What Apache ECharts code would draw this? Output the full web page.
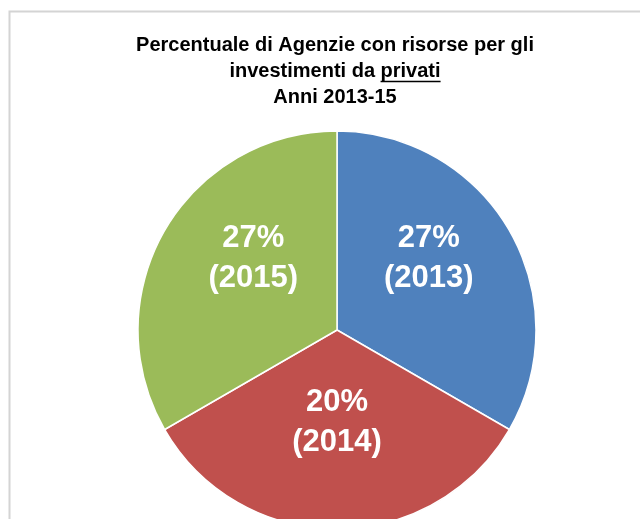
<!DOCTYPE html>
<html lang="it">
<head>
  <meta charset="UTF-8">
  <title>Agenzie - investimenti da privati</title>
  <script src="https://cdn.jsdelivr.net/npm/echarts@6/dist/echarts.min.js"></script>
  <style>
    html, body { margin: 0; padding: 0; background: #fff; }
  </style>
</head>
<body>
  <div id="chart" style="width:640px;height:519px"></div>

  <script>
    // dati
    var years = ['2013', '2014', '2015']
    var percentages = [27, 20, 27]
    // le fette nel grafico originale sono uguali (120 gradi ciascuna)
    var sliceDegrees = [120, 120, 120]
    var sliceColors = ['#4F81BD', '#C0504D', '#9BBB59']
    // piccolo aggiustamento delle etichette rispetto al centro della fetta
    var labelDx = [3, 0, 5]
    var labelDy = [-20, -10, -20]

    var titleLines = ['Percentuale di Agenzie con risorse per gli', 'investimenti da ', 'privati', 'Anni 2013-15']

    var pieData = years.map(function (y, i) {
      return {
        name: y,
        value: sliceDegrees[i],
        pct: percentages[i],
        itemStyle: { color: sliceColors[i] }
      }
    })

    var font = '"Liberation Sans", Arial, sans-serif'
    var titleSize = 20
    var titleLH = 26
    var titleTop = 32
    var titleCx = 335

    // misura il testo per mettere la sottolineatura sotto "privati"
    var ctx = document.createElement('canvas').getContext('2d')
    ctx.font = 'bold ' + titleSize + 'px ' + font
    var wPrefix = ctx.measureText(titleLines[1]).width
    var wWord = ctx.measureText(titleLines[2]).width
    var ulX1 = titleCx - (wPrefix + wWord) / 2 + wPrefix
    var ulY = titleTop + titleLH * 1.5 + 10.5

    var myChart = echarts.init(document.getElementById('chart'))

    var option = {
      backgroundColor: '#fff',
      animation: false,
      graphic: [
        {
          type: 'rect',
          shape: { x: 9.5, y: 11.5, width: 700, height: 600 },
          style: { fill: 'none', stroke: '#d4d4d4', lineWidth: 2 },
          silent: true
        },
        {
          // titolo
          type: 'text',
          x: titleCx,
          y: titleTop,
          silent: true,
          style: {
            text: titleLines[0] + '\n' + titleLines[1] + titleLines[2] + '\n' + titleLines[3],
            fontFamily: font,
            fontSize: titleSize,
            fontWeight: 'bold',
            lineHeight: titleLH,
            fill: '#000',
            align: 'center',
            verticalAlign: 'top'
          }
        },
        {
          type: 'line',
          shape: { x1: ulX1, y1: ulY, x2: ulX1 + wWord, y2: ulY },
          style: { stroke: '#000', lineWidth: 1.5 },
          silent: true
        }
      ],
      series: [
        {
          type: 'pie',
          center: [337, 330],
          radius: 199,
          startAngle: 90,
          clockwise: true,
          avoidLabelOverlap: false,
          itemStyle: { borderColor: '#fff', borderWidth: 1.5 },
          label: {
            show: true,
            position: 'inside',
            formatter: function (p) {
              return p.data.pct + '%\n(' + p.name + ')'
            },
            color: '#fff',
            fontFamily: font,
            fontSize: 31,
            fontWeight: 'bold',
            lineHeight: 40,
            align: 'center'
          },
          labelLayout: function (params) {
            return { dx: labelDx[params.dataIndex], dy: labelDy[params.dataIndex] }
          },
          labelLine: { show: false },
          emphasis: { disabled: true },
          data: pieData
        }
      ]
    }
    myChart.setOption(option)
  </script>
</body>
</html>
